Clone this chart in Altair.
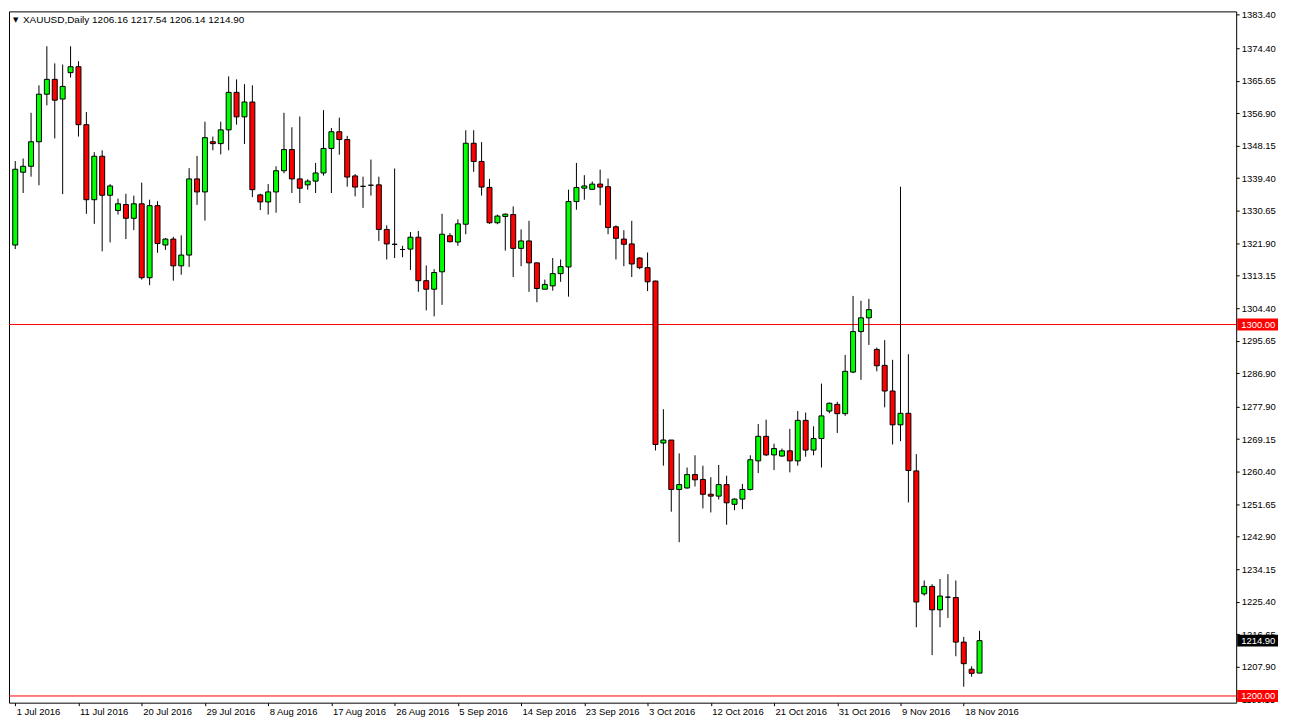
import altair as alt
import pandas as pd

# ---- data (XAUUSD daily, 1 Jul - 21 Nov 2016) ----
opens = [1321.4, 1341.0, 1342.6, 1349.2, 1362.0, 1366.0, 1360.7, 1367.8, 1369.4, 1353.8,
         1333.6, 1345.3, 1334.8, 1330.7, 1332.3, 1328.6, 1332.5, 1312.6, 1332.0, 1321.4,
         1323.0, 1315.8, 1318.7, 1339.2, 1335.7, 1349.2, 1348.7, 1352.4, 1362.5, 1355.9,
         1359.9, 1334.9, 1333.0, 1335.7, 1341.4, 1347.1, 1339.2, 1337.6, 1338.6, 1340.8,
         1347.4, 1351.9, 1349.8, 1340.0, 1337.2, 1337.5, 1337.6, 1325.6, 1321.6, 1320.2,
         1320.3, 1323.5, 1311.8, 1309.5, 1314.2, 1323.9, 1322.2, 1327.0, 1348.8, 1343.9,
         1336.9, 1327.4, 1329.1, 1329.6, 1320.5, 1322.5, 1316.6, 1309.5, 1310.4, 1313.7,
         1315.5, 1333.1, 1336.7, 1336.4, 1337.8, 1337.1, 1326.3, 1323.0, 1321.7, 1317.9,
         1315.3, 1311.7, 1268.1, 1268.9, 1255.6, 1256.0, 1259.6, 1258.3, 1254.3, 1253.8,
         1256.9, 1251.6, 1253.0, 1255.6, 1263.3, 1269.9, 1264.9, 1264.6, 1266.0, 1263.3,
         1274.2, 1266.2, 1269.3, 1276.7, 1278.5, 1276.0, 1287.2, 1298.1, 1301.8, 1293.3,
         1289.0, 1282.1, 1273.0, 1276.1, 1260.6, 1227.5, 1229.5, 1223.2, 1226.6, 1226.5,
         1214.5, 1207.2, 1206.16]
highs = [1344.0, 1344.7, 1357.0, 1364.4, 1374.9, 1370.3, 1370.0, 1374.9, 1370.9, 1357.2,
         1346.4, 1346.9, 1337.8, 1333.9, 1335.2, 1334.7, 1338.2, 1333.6, 1333.2, 1323.3,
         1323.6, 1324.0, 1342.1, 1345.4, 1354.6, 1350.6, 1354.6, 1366.8, 1366.0, 1364.7,
         1364.4, 1335.2, 1337.8, 1342.6, 1357.0, 1353.1, 1356.0, 1339.1, 1343.5, 1357.7,
         1352.9, 1355.7, 1350.8, 1340.5, 1339.8, 1344.4, 1339.8, 1326.7, 1342.0, 1321.2,
         1324.9, 1325.2, 1315.9, 1314.9, 1329.8, 1324.6, 1328.3, 1352.3, 1352.3, 1349.1,
         1339.2, 1329.6, 1329.9, 1331.8, 1325.6, 1327.9, 1316.6, 1312.1, 1317.9, 1317.5,
         1336.3, 1343.5, 1340.2, 1338.5, 1341.7, 1339.3, 1326.7, 1325.4, 1327.9, 1318.1,
         1319.4, 1311.8, 1277.2, 1268.9, 1265.3, 1261.5, 1264.8, 1262.0, 1258.9, 1262.2,
         1259.3, 1253.2, 1257.1, 1264.8, 1273.2, 1274.4, 1267.9, 1266.6, 1271.9, 1276.7,
         1276.3, 1272.6, 1284.1, 1279.0, 1279.2, 1291.8, 1307.7, 1306.4, 1306.9, 1293.8,
         1295.8, 1290.5, 1337.1, 1292.0, 1265.1, 1231.1, 1230.1, 1231.5, 1232.8, 1231.1,
         1215.9, 1208.0, 1217.54]
lows = [1320.3, 1335.4, 1339.8, 1337.5, 1359.0, 1350.1, 1335.1, 1366.5, 1350.6, 1329.8,
        1327.1, 1319.7, 1322.1, 1329.6, 1323.0, 1325.4, 1312.1, 1310.6, 1319.3, 1320.1,
        1311.8, 1313.4, 1315.5, 1332.2, 1328.0, 1346.9, 1345.8, 1346.9, 1353.8, 1348.6,
        1334.3, 1330.8, 1329.6, 1330.1, 1340.7, 1335.4, 1332.7, 1336.3, 1335.4, 1340.1,
        1335.4, 1345.7, 1337.1, 1334.5, 1331.4, 1334.7, 1322.5, 1317.5, 1317.9, 1318.1,
        1314.7, 1308.8, 1303.8, 1302.2, 1305.3, 1322.1, 1321.2, 1324.3, 1341.1, 1334.7,
        1327.1, 1327.0, 1319.9, 1312.8, 1315.7, 1308.8, 1306.0, 1309.5, 1309.1, 1311.5,
        1307.5, 1330.9, 1333.6, 1336.3, 1332.1, 1324.3, 1317.5, 1315.7, 1312.8, 1314.9,
        1309.0, 1266.1, 1262.0, 1249.6, 1241.4, 1255.8, 1256.4, 1250.5, 1249.4, 1252.9,
        1246.1, 1250.0, 1250.3, 1255.3, 1260.0, 1264.6, 1260.8, 1264.4, 1260.2, 1262.0,
        1264.4, 1264.8, 1261.5, 1276.1, 1270.8, 1275.4, 1286.9, 1285.1, 1294.5, 1287.4,
        1277.7, 1267.7, 1268.6, 1252.1, 1218.5, 1227.0, 1211.0, 1218.5, 1221.0, 1210.7,
        1202.5, 1205.2, 1206.14]
closes = [1341.8, 1342.6, 1349.2, 1362.0, 1366.0, 1360.4, 1364.1, 1369.4, 1353.8, 1333.6,
          1345.3, 1334.8, 1337.3, 1332.5, 1328.6, 1332.5, 1312.6, 1332.0, 1321.8, 1323.0,
          1315.8, 1318.7, 1339.2, 1335.7, 1350.3, 1348.7, 1352.4, 1362.5, 1355.9, 1359.9,
          1336.3, 1333.0, 1335.7, 1341.4, 1347.1, 1339.2, 1336.7, 1338.6, 1340.8, 1347.4,
          1351.9, 1349.8, 1339.7, 1337.0, 1337.2, 1337.5, 1325.6, 1321.7, 1321.6, 1320.2,
          1323.5, 1311.8, 1309.5, 1314.0, 1324.3, 1322.3, 1327.1, 1348.8, 1343.9, 1337.0,
          1327.4, 1329.2, 1329.7, 1320.5, 1322.5, 1316.6, 1309.7, 1310.8, 1313.7, 1315.6,
          1333.1, 1336.9, 1337.3, 1337.8, 1337.0, 1326.1, 1323.2, 1321.6, 1316.3, 1315.3,
          1311.5, 1267.7, 1268.9, 1255.6, 1256.9, 1259.6, 1258.2, 1254.3, 1253.8, 1256.9,
          1252.0, 1253.0, 1255.6, 1263.6, 1269.9, 1264.9, 1266.6, 1266.0, 1263.3, 1274.2,
          1266.2, 1269.3, 1275.4, 1278.8, 1276.0, 1287.4, 1298.1, 1301.8, 1304.0, 1288.9,
          1282.1, 1273.0, 1276.1, 1260.7, 1225.3, 1229.5, 1223.2, 1226.9, 1226.6, 1214.5,
          1208.7, 1206.1, 1214.90]

date_labels = ["1 Jul 2016", "11 Jul 2016", "20 Jul 2016", "29 Jul 2016", "8 Aug 2016",
               "17 Aug 2016", "26 Aug 2016", "5 Sep 2016", "14 Sep 2016", "23 Sep 2016",
               "3 Oct 2016", "12 Oct 2016", "21 Oct 2016", "31 Oct 2016", "9 Nov 2016",
               "18 Nov 2016"]
date_label_bars = [0, 8, 16, 24, 32, 40, 48, 56, 64, 72, 80, 88, 96, 104, 112, 120]

price_ticks = [1383.40, 1374.40, 1365.65, 1356.90, 1348.15, 1339.40, 1330.65, 1321.90,
               1313.15, 1304.40, 1295.65, 1286.90, 1277.90, 1269.15, 1260.40, 1251.65,
               1242.90, 1234.15, 1225.40, 1216.65, 1207.90, 1199.15]

level_prices = [1300.00, 1200.00]
marker_prices = [1300.00, 1214.90, 1200.00]
marker_colors = ["#ff0000", "#000000", "#ff0000"]

header_text = "XAUUSD,Daily  1206.16 1217.54 1206.14 1214.90"

# ---- layout ----
W, H = 1232, 694
FONT = "Liberation Sans"
FS = 9.5

df = pd.DataFrame({"bar": list(range(len(opens))), "open": opens, "high": highs,
                   "low": lows, "close": closes})
df["dir"] = ["up" if c > o else ("down" if c < o else "flat") for o, c in zip(opens, closes)]

expr = "''"
for b, lab in reversed(list(zip(date_label_bars, date_labels))):
    expr = f"datum.value == {b} ? '{lab}' : ({expr})"

xscale = alt.Scale(domain=[-0.16, 153.84], nice=False, zero=False)
yscale = alt.Scale(domain=[1198.2, 1384.3], nice=False, zero=False)

x_axis = alt.Axis(values=date_label_bars, labelExpr=expr, title=None, grid=False,
                  domain=False, tickSize=3, tickColor="black", labelAlign="left",
                  labelPadding=1, labelOffset=1)
y_axis = alt.Axis(orient="right", values=price_ticks, format=".2f", title=None,
                  grid=False, domain=False, tickSize=3, tickColor="black", labelPadding=2)

base = alt.Chart(df)

wicks = base.mark_rule(color="black", strokeWidth=1, clip=True).encode(
    x=alt.X("bar:Q", scale=xscale, axis=x_axis),
    y=alt.Y("low:Q", scale=yscale, axis=y_axis),
    y2="high:Q")

bodies = base.mark_bar(size=5, stroke="black", strokeWidth=1, clip=True).encode(
    x=alt.X("bar:Q", scale=xscale, axis=x_axis),
    y=alt.Y("open:Q", scale=yscale, axis=y_axis),
    y2="close:Q",
    color=alt.Color("dir:N", scale=alt.Scale(domain=["up", "down", "flat"],
                                             range=["#00ff00", "#ff0000", "#000000"]),
                    legend=None),
)

levels = alt.Chart(pd.DataFrame({"price": level_prices})).mark_rule(
    color="#ff0000", strokeWidth=1).encode(y=alt.Y("price:Q", scale=yscale, axis=y_axis))

mk = pd.DataFrame({"price": marker_prices, "col": marker_colors,
                   "label": [f"{p:.2f}" for p in marker_prices]})
boxes = alt.Chart(mk).mark_rule(strokeWidth=12, strokeCap="butt", clip=False).encode(
    x=alt.value(W + 1), x2=alt.value(W + 42),
    y=alt.Y("price:Q", scale=yscale, axis=y_axis),
    color=alt.Color("col:N", scale=None),
)
box_text = alt.Chart(mk).mark_text(align="left", baseline="middle", color="white",
                                   font=FONT, fontSize=FS, clip=False).encode(
    x=alt.value(W + 5), y=alt.Y("price:Q", scale=yscale, axis=y_axis), text="label:N")

hdr = alt.Chart(pd.DataFrame({"t": [header_text]})).mark_text(
    align="left", baseline="middle", font=FONT, fontSize=10, color="black").encode(
    x=alt.value(14), y=alt.value(9), text="t:N")
tri = alt.Chart(pd.DataFrame({"t": ["▼"]})).mark_text(
    align="left", baseline="middle", font="DejaVu Sans", fontSize=7, color="black").encode(
    x=alt.value(4), y=alt.value(9), text="t:N")

chart = alt.layer(levels, wicks, bodies, boxes, box_text, hdr, tri).properties(
    width=W, height=H, background="white", padding=0
).configure_view(stroke="black", strokeWidth=1).configure_axis(
    labelOverlap=False, labelFlush=False, labelBound=False,
    labelFont=FONT, labelFontSize=FS, labelColor="black"
)

chart.save("out.html", embed_options={"renderer": "svg", "actions": False})
